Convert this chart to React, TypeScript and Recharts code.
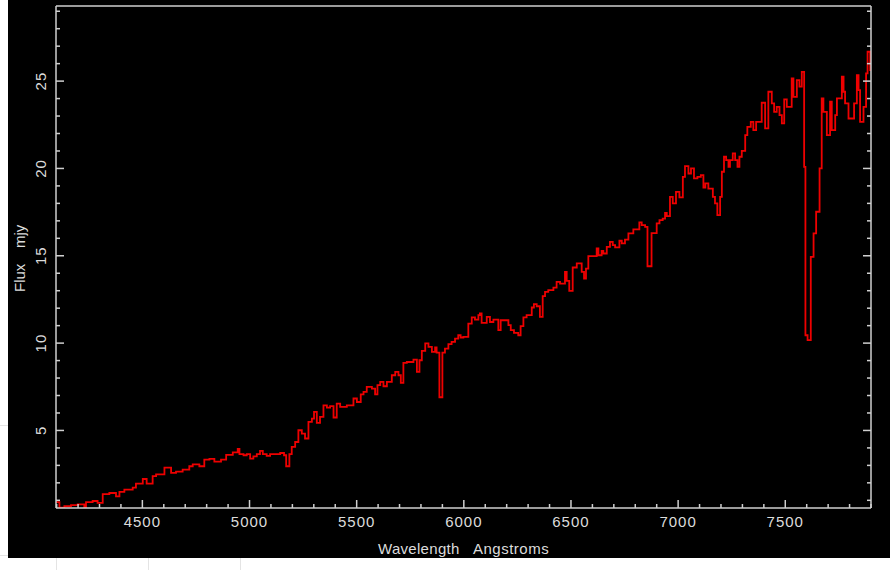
import React from 'react';
import { LineChart, Line, XAxis, YAxis } from 'recharts';

// spectrum (step data: value holds until the next wavelength)
const wavelength = [
  4097, 4113, 4136, 4167, 4198, 4229, 4237, 4268, 4291, 4315, 4346, 4377, 4393, 4416, 4455, 4470,
  4502, 4520, 4548, 4564, 4603, 4634, 4657, 4688, 4719, 4735, 4766, 4789, 4813, 4836, 4867, 4891,
  4922, 4945, 4953, 4972, 4987, 5003, 5018, 5034, 5049, 5062, 5080, 5096, 5143, 5161, 5171, 5186,
  5197, 5213, 5228, 5244, 5259, 5275, 5291, 5301, 5314, 5329, 5345, 5361, 5376, 5392, 5407, 5423,
  5454, 5485, 5501, 5519, 5532, 5547, 5571, 5586, 5597, 5610, 5625, 5641, 5664, 5680, 5695, 5706,
  5718, 5734, 5765, 5781, 5793, 5804, 5820, 5835, 5851, 5866, 5873, 5886, 5900, 5912, 5928, 5943,
  5959, 5974, 5985, 5998, 6021, 6037, 6052, 6068, 6075, 6083, 6107, 6122, 6138, 6161, 6172, 6208,
  6219, 6234, 6254, 6265, 6278, 6293, 6317, 6327, 6340, 6355, 6368, 6379, 6394, 6418, 6433, 6449,
  6472, 6480, 6492, 6508, 6527, 6550, 6561, 6570, 6581, 6620, 6628, 6643, 6651, 6667, 6682, 6695,
  6706, 6726, 6737, 6752, 6768, 6791, 6819, 6830, 6846, 6857, 6876, 6900, 6913, 6928, 6939, 6947,
  6962, 6975, 6990, 7006, 7022, 7032, 7048, 7060, 7074, 7090, 7106, 7118, 7127, 7141, 7162, 7172,
  7183, 7196, 7204, 7214, 7224, 7235, 7242, 7255, 7266, 7277, 7286, 7297, 7313, 7323, 7339, 7351,
  7364, 7390, 7406, 7421, 7437, 7448, 7460, 7473, 7484, 7495, 7507, 7530, 7538, 7554, 7566, 7577,
  7588, 7594, 7604, 7619, 7632, 7644, 7660, 7670, 7678, 7694, 7709, 7717, 7733, 7741, 7764, 7772,
  7779, 7795, 7821, 7834, 7842, 7849, 7865, 7877, 7884, 7896, 7900,
];
const flux = [
  0.9, 0.58, 0.66, 0.73, 0.77, 0.58, 0.9, 0.96, 0.85, 1.35, 1.42, 1.23, 1.48, 1.61, 1.73, 1.96,
  2.22, 1.96, 2.38, 2.49, 2.87, 2.57, 2.64, 2.76, 2.95, 3.06, 2.95, 3.33, 3.37, 3.22, 3.33, 3.6,
  3.75, 3.94, 3.64, 3.58, 3.64, 3.39, 3.52, 3.64, 3.83, 3.64, 3.54, 3.64, 3.71, 3.58, 2.95, 3.64,
  4.06, 4.34, 5.01, 4.82, 4.54, 5.49, 5.68, 6.06, 5.43, 5.78, 6.44, 6.31, 6.39, 5.74, 6.54, 6.35,
  6.44, 6.83, 6.63, 7.07, 7.21, 7.49, 7.4, 7.07, 7.59, 7.78, 7.53, 7.78, 8.16, 8.35, 8.16, 7.72,
  8.87, 8.92, 9.06, 8.35, 9.02, 9.55, 9.98, 9.78, 9.5, 9.75, 9.45, 6.9, 9.45, 9.69, 9.94, 10.07,
  10.26, 10.45, 10.32, 10.36, 11.12, 11.47, 11.35, 11.6, 11.7, 11.16, 11.5, 11.21, 11.35, 10.74, 11.31, 11.03,
  10.74, 10.59, 10.45, 10.97, 11.47, 11.6, 12.04, 12.23, 12.11, 11.5, 12.69, 12.93, 13.03, 13.18, 13.51, 13.41,
  14.08, 13.56, 12.99, 14.33, 14.56, 14.08, 13.7, 14.27, 14.98, 15.42, 15.03, 15.28, 15.13, 15.51, 15.8, 15.61,
  15.48, 15.86, 15.71, 15.93, 16.28, 16.51, 16.91, 16.75, 16.66, 14.4, 16.3, 16.85, 17.04, 17.13, 17.46, 17.27,
  18.37, 18.0, 18.66, 18.34, 19.52, 20.13, 19.71, 20.0, 19.43, 19.52, 19.62, 18.91, 19.14, 18.85, 18.37, 18.0,
  17.33, 18.37, 19.81, 20.67, 20.48, 20.09, 20.48, 20.86, 20.48, 20.09, 20.67, 21.01, 21.91, 22.38, 22.67, 22.19,
  22.67, 23.76, 22.29, 24.39, 23.72, 23.24, 23.53, 23.05, 22.58, 23.95, 23.53, 25.15, 24.1, 25.06, 24.68, 25.53,
  20.09, 10.45, 10.17, 14.94, 16.28, 17.52, 20.0, 24.01, 23.24, 21.91, 23.82, 22.19, 23.05, 24.01, 25.25, 24.39,
  23.72, 22.86, 23.72, 25.34, 24.48, 22.67, 23.53, 25.44, 26.68, 25.63, 25.63,
];

const xTicks = [
  4100, 4200, 4300, 4400, 4500, 4600, 4700, 4800, 4900, 5000, 5100, 5200, 5300, 5400, 5500, 5600,
  5700, 5800, 5900, 6000, 6100, 6200, 6300, 6400, 6500, 6600, 6700, 6800, 6900, 7000, 7100, 7200,
  7300, 7400, 7500, 7600, 7700, 7800, 7900,
];
const xLabels = [4500, 5000, 5500, 6000, 6500, 7000, 7500];
const yTicks = [
  1, 2, 3, 4, 5, 6, 7, 8, 9, 10, 11, 12, 13, 14, 15, 16, 17, 18, 19, 20, 21, 22, 23, 24, 25, 26, 27, 28, 29,
];
const yLabels = [5, 10, 15, 20, 25];
const xTitle = ['Wavelength', 'Angstroms'];
const yTitle = ['Flux', 'mjy'];

const data = wavelength.map((w, i) => ({ w, f: flux[i] }));

const W = 882;
const H = 558;
const AXIS = '#cfcfcf';
const INK = '#dcdcdc';
const FONT = '"Liberation Sans", Arial, sans-serif';

const BottomTick = ({ x, y, payload }: any) => {
  const major = xLabels.includes(payload.value);
  return (
    <g>
      <line x1={x} x2={x} y1={y} y2={y - (major ? 8 : 4)} stroke={AXIS} strokeWidth={1.5} />
      {major && (
        <text x={x} y={y + 19} textAnchor="middle" fill={INK} fontSize={15} fontFamily={FONT} letterSpacing={1}>
          {payload.value}
        </text>
      )}
    </g>
  );
};

const TopTick = ({ x, y, payload }: any) => {
  const major = xLabels.includes(payload.value);
  return <line x1={x} x2={x} y1={y} y2={y + (major ? 8 : 4)} stroke={AXIS} strokeWidth={1.5} />;
};

const LeftTick = ({ x, y, payload }: any) => {
  const major = yLabels.includes(payload.value);
  const tx = x - 15;
  return (
    <g>
      <line x1={x} x2={x + (major ? 8 : 4)} y1={y} y2={y} stroke={AXIS} strokeWidth={1.5} />
      {major && (
        <text
          x={tx}
          y={y}
          transform={`rotate(-90, ${tx}, ${y})`}
          textAnchor="middle"
          dominantBaseline="central"
          fill={INK}
          fontSize={15}
          fontFamily={FONT}
          letterSpacing={1}
        >
          {payload.value}
        </text>
      )}
    </g>
  );
};

const RightTick = ({ x, y, payload }: any) => {
  const major = yLabels.includes(payload.value);
  return <line x1={x} x2={x - (major ? 8 : 4)} y1={y} y2={y} stroke={AXIS} strokeWidth={1.5} />;
};

const App: React.FC = () => {
  const faint = '#e4e4e4';
  return (
    <div style={{ position: 'absolute', left: 0, top: 0, width: 895, height: 570, background: '#fff' }}>
      {/* stray page lines around the screenshot */}
      <div style={{ position: 'absolute', left: 0, top: 425, width: 8, height: 1, background: faint }} />
      <div style={{ position: 'absolute', left: 0, top: 555, width: 8, height: 1, background: faint }} />
      {[56, 148, 240].map(px => (
        <div key={px} style={{ position: 'absolute', left: px, top: H, width: 1, height: 570 - H, background: faint }} />
      ))}

      <div style={{ position: 'absolute', left: 8, top: 0, width: W, height: H, background: '#000', overflow: 'hidden' }}>
        <LineChart width={W} height={H} data={data} margin={{ top: 0, right: 0, bottom: 0, left: 0 }}>
          <XAxis
            xAxisId="b"
            dataKey="w"
            type="number"
            domain={[4097, 7900]}
            allowDataOverflow
            ticks={xTicks}
            interval={0}
            height={50}
            tickSize={0}
            tickMargin={0}
            tickLine={false}
            axisLine={{ stroke: AXIS, strokeWidth: 1.5 }}
            tick={<BottomTick />}
          />
          <XAxis
            xAxisId="t"
            orientation="top"
            type="number"
            domain={[4097, 7900]}
            allowDataOverflow
            ticks={xTicks}
            interval={0}
            height={6}
            tickSize={0}
            tickMargin={0}
            tickLine={false}
            axisLine={{ stroke: AXIS, strokeWidth: 1.5 }}
            tick={<TopTick />}
          />
          <YAxis
            yAxisId="l"
            type="number"
            domain={[0.56, 29.3]}
            allowDataOverflow
            ticks={yTicks}
            interval={0}
            width={48}
            tickSize={0}
            tickMargin={0}
            tickLine={false}
            axisLine={{ stroke: AXIS, strokeWidth: 1.5 }}
            tick={<LeftTick />}
          />
          <YAxis
            yAxisId="r"
            orientation="right"
            type="number"
            domain={[0.56, 29.3]}
            allowDataOverflow
            ticks={yTicks}
            interval={0}
            width={19}
            tickSize={0}
            tickMargin={0}
            tickLine={false}
            axisLine={{ stroke: AXIS, strokeWidth: 1.5 }}
            tick={<RightTick />}
          />
          <Line
            xAxisId="b"
            yAxisId="l"
            type="stepAfter"
            dataKey="f"
            stroke="#ee0000"
            strokeWidth={1.8}
            dot={false}
            activeDot={false}
            isAnimationActive={false}
          />
        </LineChart>

        <svg width={W} height={H} style={{ position: 'absolute', left: 0, top: 0, pointerEvents: 'none' }}>
          <text x={370} y={554} fill={INK} fontSize={15} fontFamily={FONT} letterSpacing={0.3}>{xTitle[0]}</text>
          <text x={465} y={554} fill={INK} fontSize={15} fontFamily={FONT} letterSpacing={0.5}>{xTitle[1]}</text>
          <text x={17} y={292} transform="rotate(-90, 17, 292)" fill={INK} fontSize={15} fontFamily={FONT}>{yTitle[0]}</text>
          <text x={17} y={248} transform="rotate(-90, 17, 248)" fill={INK} fontSize={15} fontFamily={FONT}>{yTitle[1]}</text>
        </svg>
      </div>
    </div>
  );
};

export default App;
